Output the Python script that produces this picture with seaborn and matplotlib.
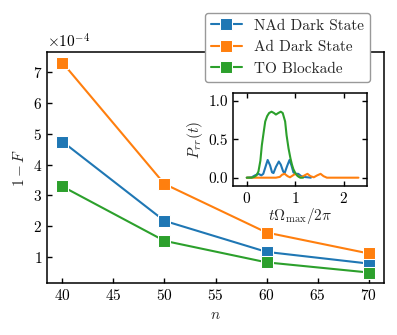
import numpy as np
import pandas as pd
import matplotlib
matplotlib.use("Agg")
import matplotlib.pyplot as plt
import seaborn as sns

# ---- data ----
n_values = [40, 50, 60, 70]
nad_dark = [4.75, 2.17, 1.16, 0.78]   # x1e-4
ad_dark = [7.32, 3.37, 1.79, 1.11]
to_block = [3.29, 1.52, 0.82, 0.49]
series_labels = ["NAd Dark State", "Ad Dark State", "TO Blockade"]
y_ticks = [1, 2, 3, 4, 5, 6, 7]       # x1e-4

# inset: P_rr(t)
green_t = [0.0, 0.10, 0.15, 0.20, 0.24, 0.28, 0.31, 0.35, 0.38, 0.42, 0.46, 0.51,
           0.56, 0.60, 0.65, 0.70, 0.74, 0.79, 0.82, 0.86, 0.90, 0.93, 0.96, 1.00,
           1.05, 1.10, 1.16]
green_p = [0.0, 0.0, 0.01, 0.03, 0.08, 0.22, 0.42, 0.60, 0.73, 0.80, 0.84, 0.857,
           0.84, 0.82, 0.84, 0.857, 0.84, 0.73, 0.55, 0.38, 0.25, 0.17, 0.11, 0.06,
           0.02, 0.0, 0.0]
blue_t = [0.0, 0.10, 0.17, 0.24, 0.30, 0.34, 0.38, 0.43, 0.48, 0.52, 0.55, 0.60,
          0.66, 0.70, 0.75, 0.78, 0.83, 0.88, 0.92, 0.96, 1.00, 1.06, 1.12, 1.18,
          1.25, 1.32]
blue_p = [0.0, 0.005, 0.03, 0.05, 0.03, 0.05, 0.13, 0.23, 0.16, 0.07, 0.06, 0.14,
          0.21, 0.17, 0.08, 0.06, 0.15, 0.23, 0.16, 0.07, 0.05, 0.05, 0.02, 0.01,
          0.005, 0.0]
orange_t = [0.0, 0.60, 0.68, 0.73, 0.78, 0.84, 0.89, 0.95, 1.00, 1.06, 1.12, 1.19,
            1.25, 1.31, 1.38, 1.45, 1.52, 1.58, 1.65, 2.30]
orange_p = [0.0, 0.0, 0.01, 0.04, 0.05, 0.02, 0.005, 0.03, 0.05, 0.02, 0.005, 0.03,
            0.05, 0.02, 0.005, 0.03, 0.05, 0.02, 0.0, 0.0]

colors = ["#1f77b4", "#ff7f0e", "#2ca02c"]

sns.set_style("ticks")
FS = 11
plt.rcParams.update({
    "font.family": ["cmr10", "DejaVu Serif"],
    "mathtext.fontset": "cm",
    "axes.formatter.use_mathtext": True,
    "axes.unicode_minus": False,
    "font.size": FS,
    "axes.linewidth": 1.1,
    "xtick.direction": "in",
    "ytick.direction": "in",
    "xtick.major.size": 3.5,
    "ytick.major.size": 3.5,
    "xtick.major.width": 1.0,
    "ytick.major.width": 1.0,
    "xtick.color": "black",
    "ytick.color": "black",
    "axes.edgecolor": "black",
})

fig = plt.figure(figsize=(3.97, 3.35), dpi=100)
ax = fig.add_axes([47 / 397, 1 - 283 / 335, 337 / 397, 231 / 335])

for vals, lab, c in zip([nad_dark, ad_dark, to_block], series_labels, colors):
    sns.lineplot(x=n_values, y=np.array(vals) * 1e-4, ax=ax, color=c, marker="s",
                 markersize=9, linewidth=1.5, label=lab)

ax.set_xticks([40, 45, 50, 55, 60, 65, 70])
ax.set_yticks(np.array(y_ticks) * 1e-4)
ax.set_xlabel(r"$n$", fontsize=FS)
ax.set_ylabel(r"$1-F$", fontsize=FS)
ax.tick_params(labelsize=FS)
ax.ticklabel_format(axis="y", style="sci", scilimits=(0, 0))
ax.yaxis.get_offset_text().set_fontsize(FS)

leg = ax.legend(loc="upper right", bbox_to_anchor=(0.958, 1.169), borderaxespad=0,
                framealpha=1, edgecolor="#999999", fontsize=FS, handlelength=2.0)

# inset
ins = fig.add_axes([232.7 / 397, 1 - 186 / 335, 134 / 397, 92.7 / 335])
for tt, pp, c in [(blue_t, blue_p, colors[0]), (orange_t, orange_p, colors[1]),
                  (green_t, green_p, colors[2])]:
    sns.lineplot(x=tt, y=pp, ax=ins, color=c, linewidth=1.5)
ins.set_xlim(-0.29, 2.47)
ins.set_ylim(-0.108, 1.096)
ins.set_xticks([0, 1, 2])
ins.set_yticks([0.0, 0.5, 1.0])
ins.set_yticklabels(["0.0", "0.5", "1.0"])
ins.tick_params(top=True, right=True, labelsize=FS)
ins.set_xlabel(r"$t\Omega_{\max}/2\pi$", fontsize=FS, labelpad=0)
ins.set_ylabel(r"$P_{rr}(t)$", fontsize=FS, labelpad=2)

fig.savefig("out.png", dpi=100)
